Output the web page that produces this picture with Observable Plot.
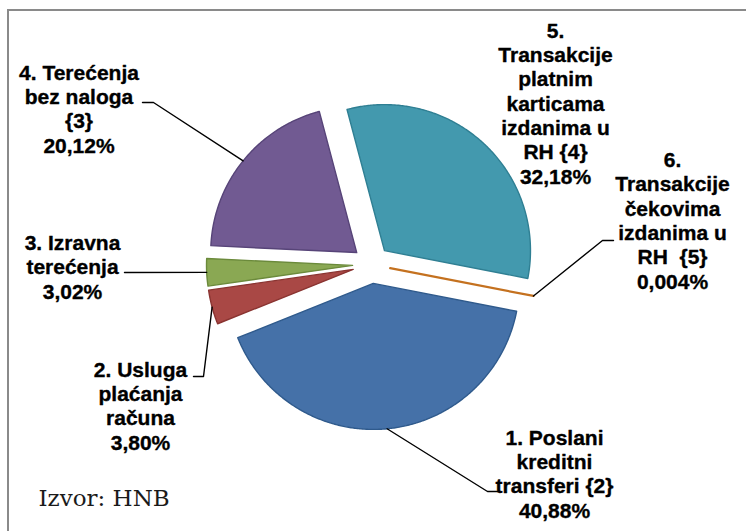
<!DOCTYPE html>
<html>
<head>
<meta charset="utf-8">
<script src="https://cdn.jsdelivr.net/npm/d3@7"></script>
<script src="https://cdn.jsdelivr.net/npm/@observablehq/plot@0.6"></script>
<style>
  html, body { margin: 0; padding: 0; background: #fff; overflow: hidden; }
  #wrap { position: relative; width: 746px; height: 531px; overflow: hidden; }
  #frame { position: absolute; left: 7px; top: 9px; width: 800px; height: 600px;
           border-left: 2px solid #8a8a8a; border-top: 2px solid #8a8a8a; }
  #chart { position: absolute; left: 0; top: 0; }
  #chart svg { background: transparent; }
  #chart text { white-space: pre; }
</style>
</head>
<body>
<div id="wrap"><div id="frame"></div><div id="chart"></div></div>
<script>
// ---- data ----
const categories = [
  "1. Poslani kreditni transferi {2}",
  "2. Usluga plaćanja računa",
  "3. Izravna terećenja",
  "4. Terećenja bez naloga {3}",
  "5. Transakcije platnim karticama izdanima u RH {4}",
  "6. Transakcije čekovima izdanima u RH  {5}"
];
const values = [40.88, 3.80, 3.02, 20.12, 32.18, 0.004];
const valueLabels = ["40,88%", "3,80%", "3,02%", "20,12%", "32,18%", "0,004%"];
const labelLines = [
  ["1. Poslani", "kreditni", "transferi {2}"],
  ["2. Usluga", "plaćanja", "računa"],
  ["3. Izravna", "terećenja"],
  ["4. Terećenja", "bez naloga", "{3}"],
  ["5.", "Transakcije", "platnim", "karticama", "izdanima u", "RH {4}"],
  ["6.", "Transakcije", "čekovima", "izdanima u", "RH  {5}"]
];
const source = "Izvor: HNB";

// ---- styles / layout ----
const fills   = ["#4571a8", "#a94845", "#8aa853", "#715a92", "#4399ae", "#c4711f"];
const strokes = ["#2f5a8c", "#8a3431", "#6b8a3b", "#574478", "#2f7f93", "#c4711f"];
const W = 746, H = 531;
const center = {x: 371, y: 264}, radius = 146, explode = 19;
const firstSliceAngle = 101; // degrees, clockwise from 12 o'clock
// label anchor: x center, y of last baseline; leader: elbow points near label
const labelLayout = [
  {x: 554, y: 517, leader: [[487, 491], [498, 491]]},
  {x: 140, y: 449, leader: [[203, 376], [193, 376]]},
  {x: 72,  y: 298, leader: [[124, 272]]},
  {x: 78.5, y: 152, leader: [[153, 102], [142, 102]]},
  {x: 555, y: 183, leader: null},
  {x: 672, y: 288, leader: [[602, 240], [613, 240]]}
];

// ---- geometry from data ----
const rad = Math.PI / 180;
const arcs = d3.pie().sort(null).value(d => d)
  .startAngle(firstSliceAngle * rad).endAngle(firstSliceAngle * rad + 2 * Math.PI)(values);

const slicePts = [];
const leaderPts = [];
const labels = [];
arcs.forEach((a, i) => {
  const mid = (a.startAngle + a.endAngle) / 2;
  const ox = center.x + explode * Math.sin(mid);
  const oy = center.y - explode * Math.cos(mid);
  const pts = [[ox, oy]];
  const n = Math.max(1, Math.ceil((a.endAngle - a.startAngle) / (0.5 * rad)));
  for (let k = 0; k <= n; k++) {
    const t = a.startAngle + (a.endAngle - a.startAngle) * k / n;
    pts.push([ox + radius * Math.sin(t), oy - radius * Math.cos(t)]);
  }
  pts.push([ox, oy]);
  pts.forEach(([x, y]) => slicePts.push({slice: categories[i], i, x, y, fill: fills[i], stroke: strokes[i]}));

  const L = labelLayout[i];
  if (L.leader) {
    const ax = ox + radius * Math.sin(mid), ay = oy - radius * Math.cos(mid);
    [[ax, ay], ...L.leader].forEach(([x, y]) => leaderPts.push({slice: categories[i], x, y}));
  }
  labels.push({x: L.x, y: L.y, text: [...labelLines[i], valueLabels[i]].join("\n")});
});

const font = "'Liberation Sans', Arial, sans-serif";
const chart = Plot.plot({
  width: W, height: H,
  margin: 0,
  x: {domain: [0, W], range: [0, W], axis: null},
  y: {domain: [0, H], range: [0, H], axis: null},
  color: {type: "identity"},
  style: {background: "transparent"},
  marks: [
    Plot.line(slicePts.filter(d => d.i !== 5), {
      x: "x", y: "y", z: "slice", fill: "fill", stroke: "stroke",
      strokeWidth: 1.4, curve: "linear", strokeLinejoin: "round"
    }),
    Plot.line(slicePts.filter(d => d.i === 5), {
      x: "x", y: "y", z: "slice", fill: "fill", stroke: "stroke",
      strokeWidth: 2.2, curve: "linear"
    }),
    Plot.line(leaderPts, {x: "x", y: "y", z: "slice", stroke: "#000", strokeWidth: 1.4}),
    Plot.text(labels, {
      x: "x", y: "y", text: "text", textAnchor: "middle", lineAnchor: "bottom",
      lineHeight: 24.3 / 21, fontSize: 21, fontWeight: "bold", fontFamily: font, fill: "#000",
      stroke: "#000", strokeWidth: 0.35
    }),
    Plot.text([source], {
      x: () => 38, y: () => 505, text: d => d, textAnchor: "start", lineAnchor: "bottom",
      fontSize: 23, fontFamily: "'DejaVu Serif', serif", fill: "#1a1a1a"
    })
  ]
});
document.getElementById("chart").appendChild(chart);
</script>
</body>
</html>
